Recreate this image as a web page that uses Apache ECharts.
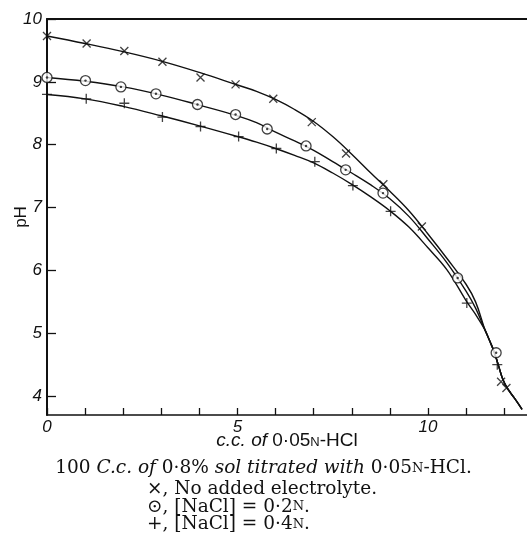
<!DOCTYPE html>
<html>
<head>
<meta charset="utf-8">
<script src="https://cdn.jsdelivr.net/npm/echarts@6/dist/echarts.min.js"></script>
<style>
  html, body { margin: 0; padding: 0; background: #fff; }
  #chart { width: 527px; height: 554px; }
</style>
</head>
<body>
<div id="chart"></div>
<script>
// markers (x = c.c. of acid, y = pH)
const noneX = [0, 1.04, 2.03, 3.03, 4.03, 4.95, 5.94, 6.95, 7.85, 8.83, 9.84, 11.92, 12.06];
const noneY = [9.73, 9.61, 9.49, 9.32, 9.07, 8.96, 8.73, 8.36, 7.86, 7.37, 6.70, 4.23, 4.13];
const nacl2X = [0, 1.01, 1.94, 2.86, 3.95, 4.95, 5.78, 6.8, 7.84, 8.82, 10.78, 11.79];
const nacl2Y = [9.07, 9.02, 8.92, 8.81, 8.64, 8.48, 8.25, 7.98, 7.60, 7.23, 5.88, 4.69];
const nacl4X = [0, 1.03, 2.03, 3.03, 4.03, 5.03, 6.02, 7.03, 8.03, 9.02, 11.02, 11.82];
const nacl4Y = [8.80, 8.73, 8.66, 8.44, 8.29, 8.13, 7.94, 7.73, 7.35, 6.94, 5.48, 4.50];

// drawn curves, read off at fixed x (they don't pass exactly through every marker)
const curveX = [0, 1, 2, 3, 4, 5, 5.5, 6, 6.5, 7, 7.5, 8, 8.5, 9, 9.5, 10, 10.5, 11, 11.25];
const noneCurveY = [9.73, 9.61, 9.48, 9.33, 9.15, 8.95, 8.85, 8.72, 8.56, 8.37, 8.13, 7.85, 7.55, 7.26, 6.95, 6.58, 6.19, 5.78, 5.50];
const nacl2CurveY = [9.07, 9.01, 8.92, 8.79, 8.63, 8.46, 8.35, 8.20, 8.06, 7.91, 7.73, 7.55, 7.36, 7.14, 6.86, 6.50, 6.12, 5.67, 5.40];
const nacl4CurveY = [8.80, 8.73, 8.61, 8.46, 8.30, 8.13, 8.04, 7.94, 7.83, 7.71, 7.55, 7.37, 7.17, 6.95, 6.69, 6.36, 6.01, 5.52, 5.30];
// common tail after the curves meet
const tailX = [11.5, 11.62, 11.74, 11.86, 11.97, 12.1, 12.28, 12.47];
const tailY = [5.05, 4.88, 4.70, 4.47, 4.26, 4.11, 3.96, 3.79];

const yTicks = [4, 5, 6, 7, 8, 9, 10];
const xTicks = [0, 1, 2, 3, 4, 5, 6, 7, 8, 9, 10, 11, 12];
const xLabels = [0, 5, 10];

const pairs = (xs, ys) => xs.map((x, i) => [x, ys[i]]);
const curve = (ys) => pairs(curveX, ys).concat(pairs(tailX, tailY));

const ink = '#111';
const labelFont = { fontFamily: 'Liberation Sans', fontStyle: 'italic', fontSize: 17, color: ink };

const chart = echarts.init(document.getElementById('chart'));

const lineSeries = (data) => ({
  type: 'line',
  data: data,
  smooth: 0.4,
  showSymbol: false,
  silent: true,
  lineStyle: { color: ink, width: 1.4 },
  z: 2
});

chart.setOption({
  backgroundColor: '#fff',
  animation: false,
  grid: { left: 47, top: 19, right: 0, bottom: 139, outerBoundsMode: 'none' },
  xAxis: [{
    type: 'value',
    min: 0,
    max: 12.6,
    splitLine: { show: false },
    axisLine: { lineStyle: { color: ink, width: 1.6 } },
    axisTick: { inside: true, length: 7, customValues: xTicks, lineStyle: { color: ink, width: 1.3 } },
    axisLabel: Object.assign({ customValues: xLabels, margin: 4 }, labelFont),
    name: '{i|c.c. of }{r|0·05}{s|N}{r|-HCl}',
    nameLocation: 'middle',
    nameGap: 16,
    nameMoveOverlap: false,
    nameTextStyle: {
      rich: {
        i: { fontFamily: 'Liberation Sans', fontStyle: 'italic', fontSize: 19, color: ink },
        r: { fontFamily: 'Liberation Sans', fontSize: 19, color: ink },
        s: { fontFamily: 'Liberation Sans', fontSize: 13, color: ink, padding: [3, 0, 0, 0] }
      }
    }
  }, {
    // top frame line only
    type: 'value',
    position: 'top',
    min: 0,
    max: 12.6,
    splitLine: { show: false },
    axisLine: { lineStyle: { color: ink, width: 2 } },
    axisTick: { show: false },
    axisLabel: { show: false }
  }],
  yAxis: {
    type: 'value',
    min: 3.7,
    max: 10,
    splitLine: { show: false },
    axisLine: { lineStyle: { color: ink, width: 2 } },
    axisTick: { inside: true, length: 9, customValues: yTicks, lineStyle: { color: ink, width: 1.3 } },
    axisLabel: Object.assign({ customValues: yTicks, margin: 5 }, labelFont),
    name: 'pH',
    nameLocation: 'middle',
    nameGap: 17,
    nameMoveOverlap: false,
    nameTextStyle: { fontFamily: 'Liberation Sans', fontSize: 17, color: ink }
  },
  series: [
    lineSeries(curve(noneCurveY)),
    lineSeries(curve(nacl2CurveY)),
    lineSeries(curve(nacl4CurveY)),
    {
      type: 'scatter',
      data: pairs(noneX, noneY),
      symbol: 'path://M0,0L10,10M0,10L10,0',
      symbolSize: 8,
      itemStyle: { color: 'none', borderColor: ink, borderWidth: 1.3 },
      z: 3
    },
    {
      type: 'scatter',
      data: pairs(nacl2X, nacl2Y),
      symbol: 'circle',
      symbolSize: 10,
      itemStyle: { color: '#fff', borderColor: ink, borderWidth: 1.3 },
      z: 3
    },
    {
      type: 'scatter',
      data: pairs(nacl2X, nacl2Y),
      symbol: 'circle',
      symbolSize: 2.4,
      itemStyle: { color: ink },
      z: 4
    },
    {
      type: 'scatter',
      data: pairs(nacl4X, nacl4Y),
      symbol: 'path://M5,0L5,10M0,5L10,5',
      symbolSize: 10,
      itemStyle: { color: 'none', borderColor: ink, borderWidth: 1.3 },
      z: 3
    }
  ],
  graphic: [
    {
      type: 'text',
      left: 'center',
      top: 459,
      style: {
        text: '{r|100 }{i|C.c. of }{r|0·8% }{i|sol titrated with }{r|0·05}{s|N}{r|-HCl.}',
        rich: {
          r: { fontFamily: 'DejaVu Serif', fontSize: 18.5, fill: ink },
          i: { fontFamily: 'DejaVu Serif', fontStyle: 'italic', fontSize: 18.5, fill: ink },
          s: { fontFamily: 'DejaVu Serif', fontSize: 13, fill: ink }
        }
      }
    },
    {
      type: 'text',
      left: 147,
      top: 480,
      style: {
        text: '{t|×, No added electrolyte.}\n{t|⊙, [NaCl] = 0·2}{s|N}{t|.}\n{t|+, [NaCl] = 0·4}{s|N}{t|.}',
        rich: {
          t: { fontFamily: 'DejaVu Serif', fontSize: 18.5, lineHeight: 17.5, fill: ink },
          s: { fontFamily: 'DejaVu Serif', fontSize: 13, lineHeight: 17.5, fill: ink }
        }
      }
    }
  ]
});
</script>
</body>
</html>
